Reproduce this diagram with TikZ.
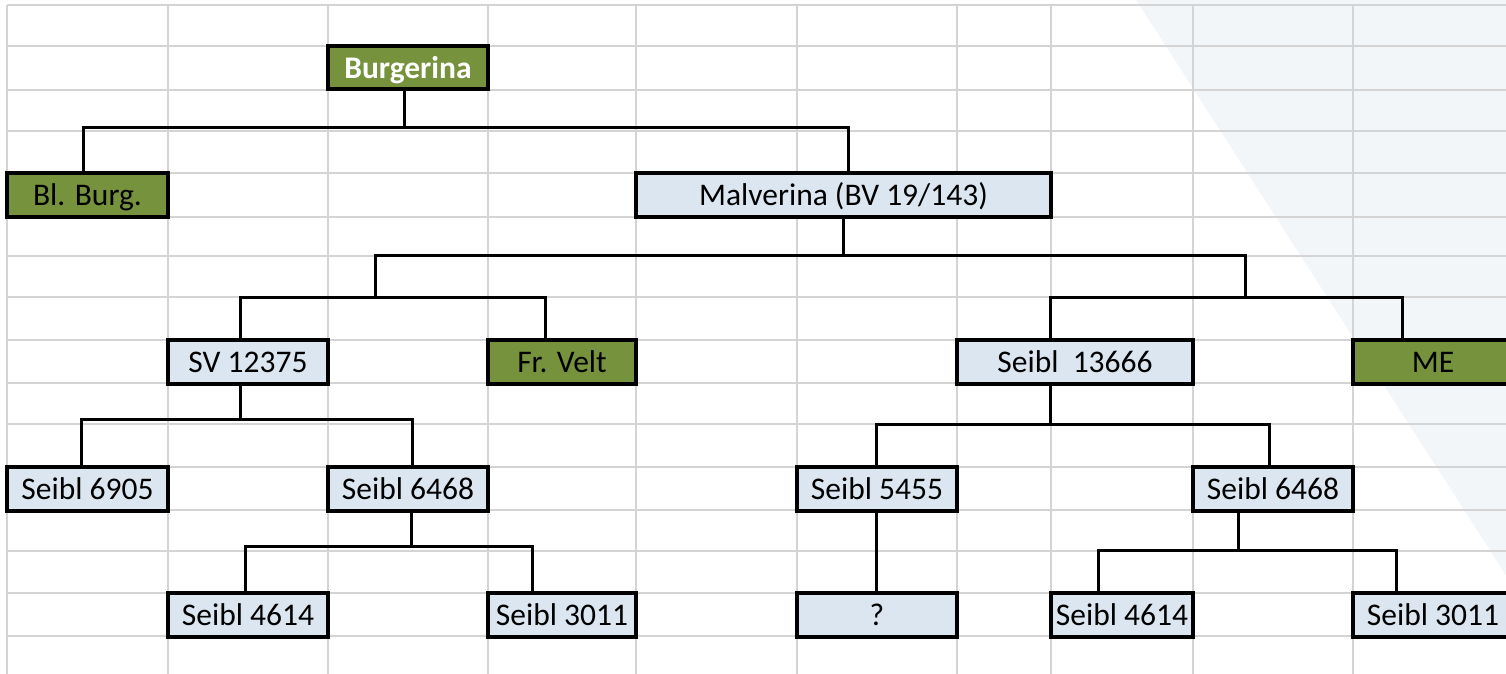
\documentclass[tikz,border=0pt]{standalone}
\usepackage{fontspec}
\setmainfont{Carlito}
\usepackage{xcolor}
\usepackage{tikz}
\usetikzlibrary{positioning}
\definecolor{boxgreen}{HTML}{76923C}
\definecolor{boxblue}{HTML}{DCE6F1}
\definecolor{gridgray}{HTML}{D4D4D4}
\definecolor{shadeblue}{HTML}{F2F6F8}

\begin{document}
\begin{tikzpicture}[x=1pt, y=-1pt,
    cell/.style={draw, rectangle, line width=4pt, inner sep=0pt, outer sep=0pt, anchor=north west,
        minimum height=43.5pt, text height=21pt, text depth=0pt, font=\fontsize{31.5}{38}\selectfont},
    bluecell/.style={cell, fill=boxblue},
    greencell/.style={cell, fill=boxgreen},
    link/.style={line width=3pt},
    gridline/.style={line width=2pt, draw=gridgray}]
    \useasboundingbox (0,0) rectangle (1506,674);
    \clip (0,0) rectangle (1506,674);
    \fill[shadeblue] (1133,-5) -- (1520,-5) -- (1520,597) -- cycle;
    \foreach \gx in {7,168,328,488,636,797,957,1051,1193,1353}
        \draw[gridline] (\gx,5) -- (\gx,680);
    \foreach \gy in {5,46,90,131,173,217,256,297,340,383,424,467,510,551,593,636}
        \draw[gridline] (7,\gy) -- (1510,\gy);

    \coordinate (jl) at (375,297);
    \coordinate (jr) at (1245,297);

    \node[greencell, minimum width=160pt, text=white, font=\fontsize{31.5}{38}\selectfont\bfseries] (burg) at (328,46) {Burgerina};
    \node[greencell, minimum width=161pt] (blburg) at (7,173) {Bl. Burg.};
    \node[bluecell, minimum width=415pt] (malv) at (636,173) {Malverina (BV 19/143)};
    \node[bluecell, minimum width=160pt] (sv) at (168,340) {SV 12375};
    \node[greencell, minimum width=148pt] (frvelt) at (488,340) {Fr. Velt};
    \node[bluecell, minimum width=236pt] (s13666) at (957,340) {Seibl\ \ 13666};
    \node[greencell, minimum width=160pt] (me) at (1353,340) {ME};
    \node[bluecell, minimum width=161pt] (s6905) at (7,467) {Seibl 6905};
    \node[bluecell, minimum width=160pt] (s6468a) at (328,467) {Seibl 6468};
    \node[bluecell, minimum width=160pt] (s5455) at (797,467) {Seibl 5455};
    \node[bluecell, minimum width=160pt] (s6468b) at (1193,467) {Seibl 6468};
    \node[bluecell, minimum width=160pt] (s4614a) at (168,593) {Seibl 4614};
    \node[bluecell, minimum width=148pt] (s3011a) at (488,593) {Seibl 3011};
    \node[bluecell, minimum width=160pt] (unk) at (797,593) {?};
    \node[bluecell, minimum width=142pt] (s4614b) at (1051,593) {Seibl 4614};
    \node[bluecell, minimum width=160pt] (s3011b) at (1353,593) {Seibl 3011};

    \draw[link] ([xshift=-4]burg.south) -- ++(0,38) -| ([xshift=-4]blburg.north);
    \draw[link] ([xshift=-4]burg.south) -- ++(0,38) -| ([xshift=4.5]malv.north);
    \draw[link] (malv.south) -- ++(0,39) -| (jl) -| ([xshift=-8]sv.north);
    \draw[link] (jl) -| ([xshift=-17]frvelt.north);
    \draw[link] (malv.south) -- ++(0,39) -| (jr) -| ([xshift=-25]s13666.north);
    \draw[link] (jr) -| ([xshift=-31]me.north);
    \draw[link] ([xshift=-8]sv.south) -- ++(0,36) -| ([xshift=-6.5]s6905.north);
    \draw[link] ([xshift=-8]sv.south) -- ++(0,36) -| ([xshift=4]s6468a.north);
    \draw[link] ([xshift=3]s6468a.south) -- ++(0,36) -| ([xshift=-3]s4614a.north);
    \draw[link] ([xshift=3]s6468a.south) -- ++(0,36) -| ([xshift=-30]s3011a.north);
    \draw[link] ([xshift=-25]s13666.south) -- ++(0,41) -| ([xshift=-1]s5455.north);
    \draw[link] ([xshift=-25]s13666.south) -- ++(0,41) -| ([xshift=-4]s6468b.north);
    \draw[link] ([xshift=-1]s5455.south) -- ([xshift=-1]unk.north);
    \draw[link] ([xshift=-35]s6468b.south) -- ++(0,40) -| ([xshift=-24]s4614b.north);
    \draw[link] ([xshift=-35]s6468b.south) -- ++(0,40) -| ([xshift=-37]s3011b.north);
\end{tikzpicture}
\end{document}
